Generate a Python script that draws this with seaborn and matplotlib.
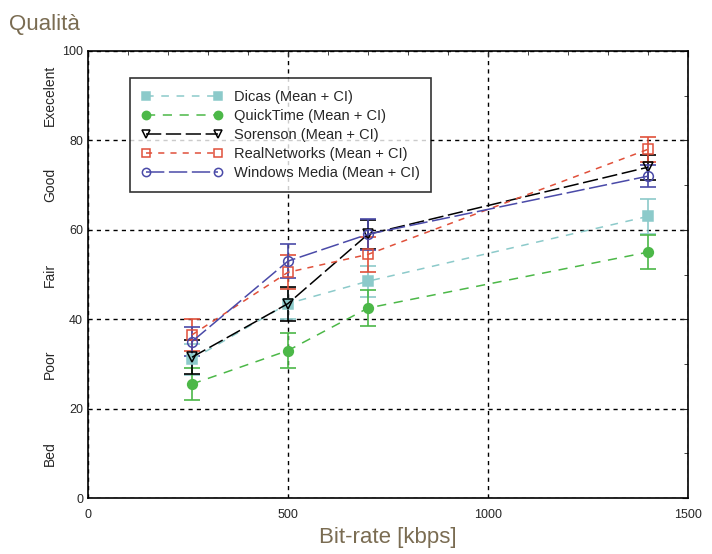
import seaborn as sns
import pandas as pd
import numpy as np
import matplotlib.pyplot as plt
from matplotlib.ticker import MultipleLocator

sns.set_style('white')
plt.rcParams['font.family'] = ['Liberation Sans', 'DejaVu Sans']

bitrate = [260, 500, 700, 1400]
series = ['Dicas', 'QuickTime', 'Sorenson', 'RealNetworks', 'Windows Media']
means = {
    'Dicas': [31, 43.5, 48.5, 63],
    'QuickTime': [25.5, 33, 42.5, 55],
    'Sorenson': [31.5, 43.5, 59, 74],
    'RealNetworks': [36.5, 50.5, 54.5, 78],
    'Windows Media': [35, 53, 59, 72],
}
ci = {
    'Dicas': [3.5, 3.5, 3.5, 4],
    'QuickTime': [3.5, 4, 4, 3.8],
    'Sorenson': [3.8, 3.8, 3.2, 2.8],
    'RealNetworks': [3.5, 3.8, 4, 2.8],
    'Windows Media': [3.3, 3.8, 3.5, 2.5],
}
quality_labels = ['Bed', 'Poor', 'Fair', 'Good', 'Execelent']
quality_pos = [10, 30, 50, 70, 90]

colors = {'Dicas': '#8ccaca', 'QuickTime': '#4cb848', 'Sorenson': 'black',
          'RealNetworks': '#e0503a', 'Windows Media': '#4a4aa8'}
markers = {'Dicas': 's', 'QuickTime': 'o', 'Sorenson': 'v',
           'RealNetworks': 's', 'Windows Media': 'o'}
filled = {'Dicas': True, 'QuickTime': True, 'Sorenson': False,
          'RealNetworks': False, 'Windows Media': False}
dashes = {'Dicas': (5, 5), 'QuickTime': (6, 5), 'Sorenson': (10, 3),
          'RealNetworks': (4, 4), 'Windows Media': (12, 3)}

fig = plt.figure(figsize=(7.12, 5.54), dpi=100)
ax = fig.add_axes([0.1236, 0.101, 0.8427, 0.807])

for name in series:
    df = pd.DataFrame({'x': bitrate, 'y': means[name]})
    c = colors[name]
    ax.errorbar(df['x'], df['y'], yerr=ci[name], fmt='none', ecolor=c,
                elinewidth=1.2, capsize=5.5, capthick=1.2, zorder=3)
    sns.lineplot(data=df, x='x', y='y', ax=ax, color=c, marker=markers[name],
                 markersize=7, markerfacecolor=c if filled[name] else 'none',
                 markeredgecolor=c, markeredgewidth=1.1, linewidth=1.1,
                 dashes=dashes[name], label=f'{name} (Mean + CI)', zorder=4)

ax.set_xlim(0, 1500)
ax.set_ylim(0, 100)
ax.xaxis.set_major_locator(MultipleLocator(500))
ax.xaxis.set_minor_locator(MultipleLocator(100))
ax.yaxis.set_major_locator(MultipleLocator(20))
ax.yaxis.set_minor_locator(MultipleLocator(10))
ax.tick_params(which='both', direction='in', top=True, right=True,
               labelsize=9, length=4)
ax.tick_params(axis='x', pad=8)
ax.tick_params(which='minor', length=3)
ax.grid(True, which='major', color='black', linestyle=(0, (3, 3)), linewidth=1)
for s in ax.spines.values():
    s.set_color('black')
    s.set_linewidth(1.2)

ax.set_xlabel('Bit-rate [kbps]', fontsize=16, color='#7a6c52', labelpad=4)
ax.set_ylabel('')
fig.text(0.012, 0.945, 'Qualità', fontsize=16, color='#7a6c52')

for lab, pos in zip(quality_labels, quality_pos):
    ax.text(-0.063, pos, lab, transform=ax.get_yaxis_transform(), rotation=90,
            ha='center', va='center', fontsize=10)

leg = ax.legend(loc='upper left', bbox_to_anchor=(0.058, 0.955), numpoints=2,
                handlelength=5.5, fontsize=10.5, frameon=True, fancybox=False,
                edgecolor='black', borderpad=0.8, labelspacing=0.35,
                markerscale=0.85)
leg.get_frame().set_linewidth(1.2)

fig.savefig('out.png', dpi=100)
